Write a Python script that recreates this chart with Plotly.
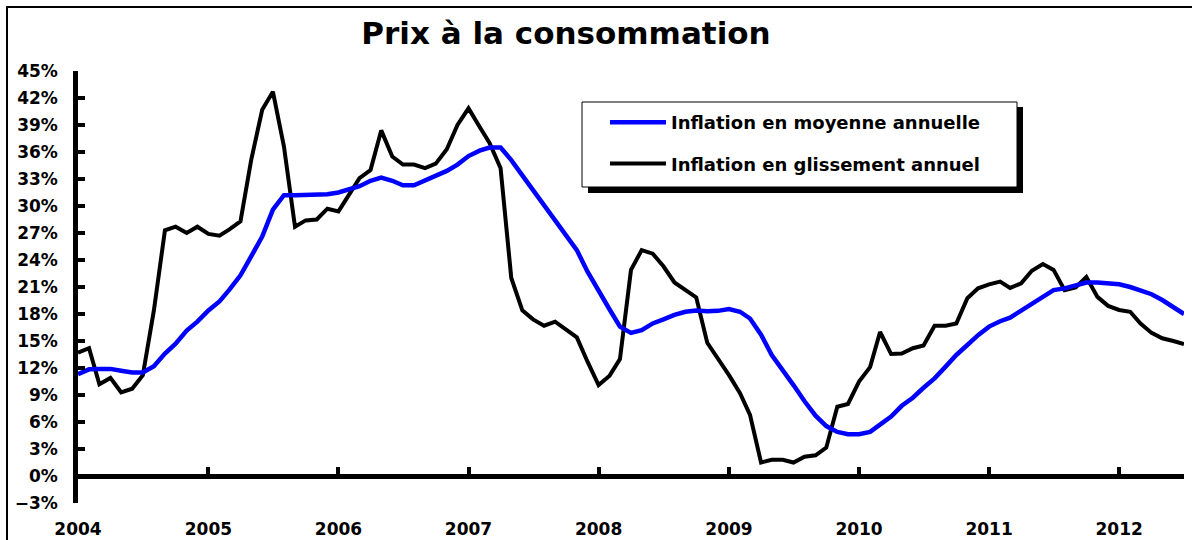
import pandas as pd
import plotly.graph_objects as go

# ---- data (monthly, Jan 2004 -> Jul 2012) ----
months = pd.date_range("2004-01-01", periods=103, freq="MS")

inflation_moyenne = [
    11.3, 11.85, 11.9, 11.9, 11.7, 11.5, 11.5, 12.2, 13.6, 14.7, 16.15, 17.15,
    18.4, 19.4, 20.7, 22.3, 24.4, 26.6, 29.6, 31.2, 31.2, 31.2, 31.2, 31.3,
    31.5, 31.85, 32.2, 32.8, 33.15, 32.8, 32.3, 32.3, 32.8, 33.3, 33.9, 34.6,
    35.55, 36.15, 36.5, 36.5, 35.1, 33.4, 31.8, 30.1, 28.3, 26.8, 25.1, 22.7,
    20.5, 18.5, 16.6, 15.9, 16.2, 16.95, 17.4, 17.9, 18.25, 18.4, 18.3, 18.35,
    18.55, 18.25, 17.5, 15.7, 13.45, 11.8, 10.1, 8.3, 6.7, 5.55, 4.9, 4.65,
    4.65, 4.9, 5.65, 6.6, 7.8, 8.7, 9.8, 10.85, 12.15, 13.45, 14.55, 15.65,
    16.6, 17.2, 17.6, 18.4, 19.1, 19.85, 20.65, 20.85, 21.2, 21.5, 21.5, 21.4,
    21.3, 21.0, 20.65, 20.2, 19.55, 18.75, 18.0,
]

inflation_glissement = [
    13.7, 14.2, 10.2, 10.9, 9.3, 9.7, 11.2, 18.4, 27.3, 27.7, 27.0, 27.7,
    26.9, 26.7, 27.4, 28.3, 35.1, 40.7, 42.7, 36.6, 27.7, 28.4, 28.5, 29.7,
    29.4, 31.4, 33.1, 34.0, 38.4, 35.5, 34.6, 34.6, 34.2, 34.7, 36.3, 39.0,
    40.85, 38.8, 37.0, 34.2, 22.0, 18.4, 17.4, 16.7, 17.15, 16.3, 15.4, 12.7,
    10.1, 11.15, 13.0, 22.9, 25.1, 24.7, 23.3, 21.5, 20.6, 19.85, 14.8, 13.1,
    11.2, 9.2, 6.8, 1.5, 1.8, 1.8, 1.5, 2.15, 2.3, 3.15, 7.7, 8.0,
    10.5, 12.1, 16.0, 13.55, 13.6, 14.2, 14.5, 16.7, 16.7, 16.95, 19.75, 20.85,
    21.3, 21.6, 20.9, 21.4, 22.8, 23.55, 22.9, 20.65, 20.95, 22.1, 19.9, 18.9,
    18.45, 18.25, 16.95, 15.9, 15.3, 15.0, 14.65,
]

series_names = ["Inflation en moyenne annuelle", "Inflation en glissement annuel"]
title_text = "Prix à la consommation"

# ---- figure ----
W, H = 1192, 540
ML, MR, MT, MB = 78, 8, 71, 37
PW, PH = W - ML - MR, H - MT - MB


def px_x(p):
    return (p - ML) / PW


def px_y(p):
    return (H - MB - p) / PH


FONT = "DejaVu Sans"

fig = go.Figure()
fig.add_trace(go.Scatter(
    x=months, y=inflation_moyenne, mode="lines", name=series_names[0],
    line=dict(color="#0000FF", width=4.5), legendgroup="a", xaxis="x2",
))
fig.add_trace(go.Scatter(
    x=months, y=inflation_glissement, mode="lines", name=series_names[1],
    line=dict(color="#000000", width=4), legendgroup="b",
))

xrange_ = ["2004-01-01", "2012-07-01"]
ymin, ymax = -3, 45

fig.update_layout(
    width=W, height=H,
    margin=dict(l=ML, r=MR, t=MT, b=MB, pad=0, autoexpand=False),
    paper_bgcolor="white", plot_bgcolor="white",
    font=dict(family=FONT, color="black", size=17, weight="bold"),
    title=dict(
        text=title_text, x=566 / W, xanchor="center", y=1 - 33 / H, yanchor="middle",
        font=dict(family=FONT, size=31, color="black", weight="bold"),
    ),
    xaxis=dict(
        type="date", range=xrange_, dtick="M12", tick0="2004-01-01", tickformat="%Y",
        showgrid=False, zeroline=False, showline=False, ticks="",
        ticklabelstandoff=14, automargin=False,
        tickfont=dict(family=FONT, size=17, weight="bold"),
    ),
    xaxis2=dict(
        type="date", range=xrange_, dtick="M12", tick0="2004-01-01",
        overlaying="x", anchor="free", position=(0 - ymin) / (ymax - ymin),
        showgrid=False, zeroline=False, showline=True, linecolor="black", linewidth=4.5,
        ticks="inside", ticklen=7, tickwidth=3.5, tickcolor="black",
        showticklabels=False, automargin=False,
    ),
    yaxis=dict(
        range=[ymin, ymax], dtick=3, tick0=0, ticksuffix="%",
        showgrid=False, zeroline=False, showline=True, linecolor="black", linewidth=4.5,
        ticks="inside", ticklen=7, tickwidth=3.5, tickcolor="black",
        ticklabelstandoff=12, automargin=False,
        tickfont=dict(family=FONT, size=17, weight="bold"),
    ),
    showlegend=True,
    legend=dict(
        x=px_x(605), y=px_y(104), xanchor="left", yanchor="top",
        bgcolor="rgba(0,0,0,0)", borderwidth=0,
        traceorder="grouped", tracegroupgap=15, itemwidth=56,
        font=dict(family=FONT, size=18, weight="bold", color="black"),
    ),
    shapes=[
        # outer chart frame
        dict(type="rect", xref="paper", yref="paper",
             x0=px_x(7), x1=px_x(1205), y0=px_y(555), y1=px_y(7),
             line=dict(color="black", width=2), fillcolor="rgba(0,0,0,0)", layer="below"),
        # legend shadow
        dict(type="rect", xref="paper", yref="paper",
             x0=px_x(588), x1=px_x(1023), y0=px_y(193), y1=px_y(107),
             line=dict(width=0), fillcolor="black", layer="above"),
        # legend box
        dict(type="rect", xref="paper", yref="paper",
             x0=px_x(582), x1=px_x(1017), y0=px_y(187), y1=px_y(102),
             line=dict(color="black", width=1), fillcolor="white", layer="above"),
    ],
)

fig.write_html(
    "out.html",
    config={"displayModeBar": False},
    post_script="document.body.style.margin='0';document.body.style.overflow='hidden';",
)
